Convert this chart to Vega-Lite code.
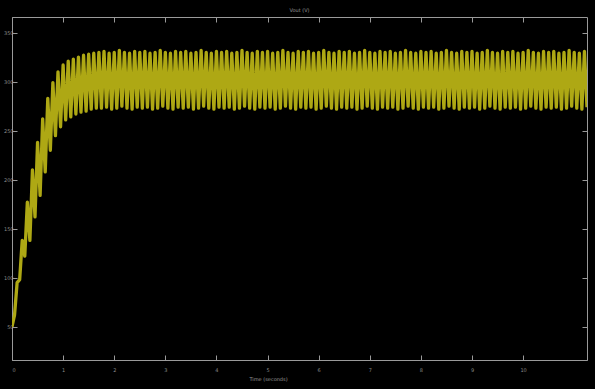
{
"$schema": "https://vega.github.io/schema/vega-lite/v6.json",
"width": 575,
"height": 343,
"autosize": {"type": "none"},
"padding": {"left": 12, "top": 17, "right": 8, "bottom": 29},
"background": "#000000",
"config": {
  "view": {"stroke": "#9a9a9a", "strokeWidth": 1},
  "axis": {"grid": false, "domainColor": "#9a9a9a", "tickColor": "#9a9a9a", "labelColor": "#8a8a8a", "titleColor": "#9a9a9a", "labelFont": "DejaVu Sans", "titleFont": "DejaVu Sans", "labelFontSize": 5, "titleFontSize": 5, "titleFontWeight": "normal"}
},
"title": {"text": "Vout (V)", "color": "#9a9a9a", "fontSize": 5, "font": "DejaVu Sans", "fontWeight": "normal", "offset": 4},
"data": {"values": [
{"t":0.00,"v":50},{"t":0.05,"v":62},{"t":0.10,"v":95},{"t":0.15,"v":98},{"t":0.20,"v":138},{"t":0.25,"v":122},{"t":0.30,"v":177},{"t":0.35,"v":138},{"t":0.40,"v":210},{"t":0.45,"v":162},{"t":0.50,"v":238},{"t":0.55,"v":184},{"t":0.60,"v":262},{"t":0.65,"v":208},{"t":0.70,"v":283},{"t":0.75,"v":230},{"t":0.80,"v":299},{"t":0.85,"v":245},{"t":0.90,"v":310},{"t":0.95,"v":254},{"t":1.00,"v":317},{"t":1.05,"v":261},{"t":1.10,"v":321},{"t":1.15,"v":264},{"t":1.20,"v":323},{"t":1.25,"v":267},{"t":1.30,"v":325},{"t":1.35,"v":269},{"t":1.40,"v":327},{"t":1.45,"v":270},{"t":1.50,"v":328},{"t":1.55,"v":272},{"t":1.60,"v":329},{"t":1.65,"v":273},
{"t":1.70,"v":330},{"t":1.75,"v":273},{"t":1.80,"v":331},{"t":1.85,"v":274},{"t":1.90,"v":329},{"t":1.95,"v":272},{"t":2.00,"v":330},{"t":2.05,"v":273},{"t":2.10,"v":332},{"t":2.15,"v":275},{"t":2.20,"v":330},{"t":2.25,"v":273},{"t":2.30,"v":329},{"t":2.35,"v":272},{"t":2.40,"v":331},{"t":2.45,"v":274},
{"t":2.50,"v":330},{"t":2.55,"v":273},{"t":2.60,"v":331},{"t":2.65,"v":274},{"t":2.70,"v":329},{"t":2.75,"v":272},{"t":2.80,"v":330},{"t":2.85,"v":273},{"t":2.90,"v":332},{"t":2.95,"v":275},{"t":3.00,"v":330},{"t":3.05,"v":273},{"t":3.10,"v":329},{"t":3.15,"v":272},{"t":3.20,"v":331},{"t":3.25,"v":274},
{"t":3.30,"v":330},{"t":3.35,"v":273},{"t":3.40,"v":331},{"t":3.45,"v":274},{"t":3.50,"v":329},{"t":3.55,"v":272},{"t":3.60,"v":330},{"t":3.65,"v":273},{"t":3.70,"v":332},{"t":3.75,"v":275},{"t":3.80,"v":330},{"t":3.85,"v":273},{"t":3.90,"v":329},{"t":3.95,"v":272},{"t":4.00,"v":331},{"t":4.05,"v":274},
{"t":4.10,"v":330},{"t":4.15,"v":273},{"t":4.20,"v":331},{"t":4.25,"v":274},{"t":4.30,"v":329},{"t":4.35,"v":272},{"t":4.40,"v":330},{"t":4.45,"v":273},{"t":4.50,"v":332},{"t":4.55,"v":275},{"t":4.60,"v":330},{"t":4.65,"v":273},{"t":4.70,"v":329},{"t":4.75,"v":272},{"t":4.80,"v":331},{"t":4.85,"v":274},
{"t":4.90,"v":330},{"t":4.95,"v":273},{"t":5.00,"v":331},{"t":5.05,"v":274},{"t":5.10,"v":329},{"t":5.15,"v":272},{"t":5.20,"v":330},{"t":5.25,"v":273},{"t":5.30,"v":332},{"t":5.35,"v":275},{"t":5.40,"v":330},{"t":5.45,"v":273},{"t":5.50,"v":329},{"t":5.55,"v":272},{"t":5.60,"v":331},{"t":5.65,"v":274},
{"t":5.70,"v":330},{"t":5.75,"v":273},{"t":5.80,"v":331},{"t":5.85,"v":274},{"t":5.90,"v":329},{"t":5.95,"v":272},{"t":6.00,"v":330},{"t":6.05,"v":273},{"t":6.10,"v":332},{"t":6.15,"v":275},{"t":6.20,"v":330},{"t":6.25,"v":273},{"t":6.30,"v":329},{"t":6.35,"v":272},{"t":6.40,"v":331},{"t":6.45,"v":274},
{"t":6.50,"v":330},{"t":6.55,"v":273},{"t":6.60,"v":331},{"t":6.65,"v":274},{"t":6.70,"v":329},{"t":6.75,"v":272},{"t":6.80,"v":330},{"t":6.85,"v":273},{"t":6.90,"v":332},{"t":6.95,"v":275},{"t":7.00,"v":330},{"t":7.05,"v":273},{"t":7.10,"v":329},{"t":7.15,"v":272},{"t":7.20,"v":331},{"t":7.25,"v":274},
{"t":7.30,"v":330},{"t":7.35,"v":273},{"t":7.40,"v":331},{"t":7.45,"v":274},{"t":7.50,"v":329},{"t":7.55,"v":272},{"t":7.60,"v":330},{"t":7.65,"v":273},{"t":7.70,"v":332},{"t":7.75,"v":275},{"t":7.80,"v":330},{"t":7.85,"v":273},{"t":7.90,"v":329},{"t":7.95,"v":272},{"t":8.00,"v":331},{"t":8.05,"v":274},
{"t":8.10,"v":330},{"t":8.15,"v":273},{"t":8.20,"v":331},{"t":8.25,"v":274},{"t":8.30,"v":329},{"t":8.35,"v":272},{"t":8.40,"v":330},{"t":8.45,"v":273},{"t":8.50,"v":332},{"t":8.55,"v":275},{"t":8.60,"v":330},{"t":8.65,"v":273},{"t":8.70,"v":329},{"t":8.75,"v":272},{"t":8.80,"v":331},{"t":8.85,"v":274},
{"t":8.90,"v":330},{"t":8.95,"v":273},{"t":9.00,"v":331},{"t":9.05,"v":274},{"t":9.10,"v":329},{"t":9.15,"v":272},{"t":9.20,"v":330},{"t":9.25,"v":273},{"t":9.30,"v":332},{"t":9.35,"v":275},{"t":9.40,"v":330},{"t":9.45,"v":273},{"t":9.50,"v":329},{"t":9.55,"v":272},{"t":9.60,"v":331},{"t":9.65,"v":274},
{"t":9.70,"v":330},{"t":9.75,"v":273},{"t":9.80,"v":331},{"t":9.85,"v":274},{"t":9.90,"v":329},{"t":9.95,"v":272},{"t":10.00,"v":330},{"t":10.05,"v":273},{"t":10.10,"v":332},{"t":10.15,"v":275},{"t":10.20,"v":330},{"t":10.25,"v":273},{"t":10.30,"v":329},{"t":10.35,"v":272},{"t":10.40,"v":331},{"t":10.45,"v":274},
{"t":10.50,"v":330},{"t":10.55,"v":273},{"t":10.60,"v":331},{"t":10.65,"v":274},{"t":10.70,"v":329},{"t":10.75,"v":272},{"t":10.80,"v":330},{"t":10.85,"v":273},{"t":10.90,"v":332},{"t":10.95,"v":275},{"t":11.00,"v":330},{"t":11.05,"v":273},{"t":11.10,"v":329},{"t":11.15,"v":272},{"t":11.20,"v":331},{"t":11.25,"v":274}
]},
"layer": [
  {
    "mark": {"type": "line", "color": "#aea814", "strokeWidth": 3.3, "strokeJoin": "round", "clip": true},
    "encoding": {
      "x": {"field": "t", "type": "quantitative", "scale": {"domain": [0, 11.25], "nice": false, "zero": false},
            "axis": {"orient": "bottom", "values": [0,1,2,3,4,5,6,7,8,9,10], "tickSize": -5, "labelPadding": 12, "title": "Time (seconds)", "titleX": 256, "titleY": 20, "titleBaseline": "alphabetic", "titleAnchor": null}},
      "y": {"field": "v", "type": "quantitative", "scale": {"domain": [16, 366], "nice": false, "zero": false},
            "axis": {"orient": "left", "values": [50,100,150,200,250,300,350], "tickSize": -5, "labelPadding": 4, "title": null}}
    }
  },
  {
    "mark": {"type": "line", "opacity": 0},
    "encoding": {
      "x": {"field": "t", "type": "quantitative", "axis": {"orient": "top", "values": [0,1,2,3,4,5,6,7,8,9,10], "tickSize": -5, "labels": false, "domain": false, "title": null}},
      "y": {"field": "v", "type": "quantitative", "axis": {"orient": "right", "values": [50,100,150,200,250,300,350], "tickSize": -5, "labels": false, "domain": false, "title": null}}
    }
  }
],
"resolve": {"axis": {"x": "independent", "y": "independent"}}
}
